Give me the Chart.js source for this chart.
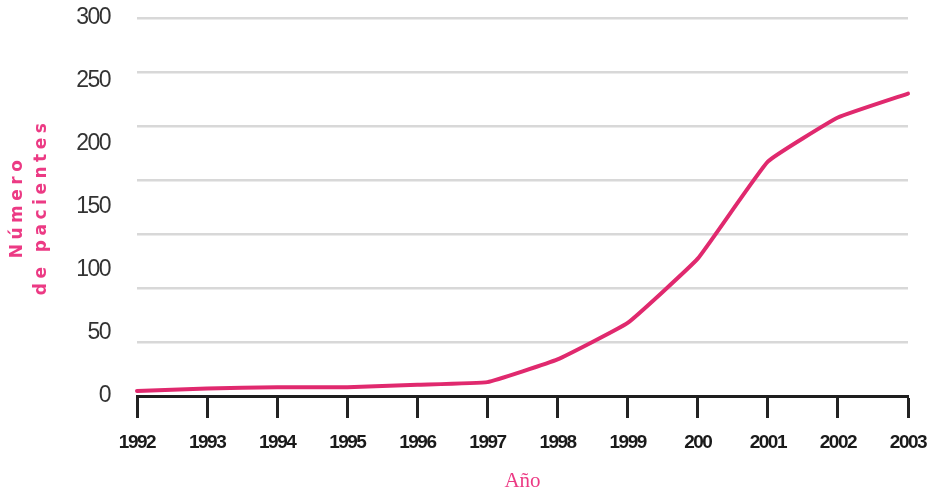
<!DOCTYPE html>
<html>
<head>
<meta charset="utf-8">
<script src="https://cdn.jsdelivr.net/npm/chart.js@4/dist/chart.umd.min.js"></script>
<style>
  html, body { margin: 0; padding: 0; background: #ffffff; }
  #wrap { width: 927px; height: 494px; }
</style>
</head>
<body>
<div id="wrap"><canvas id="c" width="927" height="494"></canvas></div>
<script>
// Pacientes por año
const years = ['1992', '1993', '1994', '1995', '1996', '1997', '1998', '1999', '2000', '2001', '2002', '2003'];
const xTickLabels = ['1992', '1993', '1994', '1995', '1996', '1997', '1998', '1999', '200', '2001', '2002', '2003'];
const pacientes = [4, 6, 7, 7, 9, 11, 29, 58, 109, 186, 221, 240];
const yTitleLines = ['Número', 'de pacientes'];
const xTitle = 'Año';

const PINK = '#e0296e';
const TITLE_PINK = '#ec3a84';

// Scale variants that draw their title and tick labels with custom letter spacing
function spacedScale(Base, id, titleSpacing, labelSpacing) {
  class Spaced extends Base {
    drawTitle() {
      const ctx = this.ctx;
      ctx.save();
      ctx.letterSpacing = titleSpacing;
      super.drawTitle();
      ctx.restore();
    }
    drawLabels(chartArea) {
      const ctx = this.ctx;
      ctx.save();
      ctx.letterSpacing = labelSpacing;
      super.drawLabels(chartArea);
      ctx.restore();
    }
  }
  Spaced.id = id;
  Spaced.defaults = Base.defaults;
  Chart.register(Spaced);
}
spacedScale(Chart.registry.getScale('linear'), 'spacedLinear', '4.5px', '-1.5px');
spacedScale(Chart.registry.getScale('category'), 'spacedCategory', '0px', '-1.5px');

new Chart(document.getElementById('c'), {
  type: 'line',
  data: {
    labels: years,
    datasets: [{
      data: pacientes,
      borderColor: PINK,
      borderWidth: 4,
      borderCapStyle: 'round',
      borderJoinStyle: 'round',
      pointRadius: 0,
      tension: 0.1,
      fill: false,
      clip: false
    }]
  },
  options: {
    responsive: false,
    animation: false,
    layout: { padding: { top: 18, right: 19, left: 0, bottom: 0 } },
    plugins: { legend: { display: false }, tooltip: { enabled: false } },
    scales: {
      x: {
        type: 'spacedCategory',
        offset: false,
        afterFit: (s) => { s.paddingRight = 0; },
        border: { display: true, color: '#1e1e1e', width: 3 },
        grid: { drawOnChartArea: false, drawTicks: true, tickLength: 22, tickColor: '#222222', tickWidth: 3 },
        ticks: {
          callback: (v, i) => xTickLabels[i],
          color: '#1a1a1a',
          padding: 13,
          maxRotation: 0,
          autoSkip: false,
          font: { family: "'Liberation Sans', sans-serif", weight: 'bold', size: 19 }
        },
        title: {
          display: true,
          text: xTitle,
          color: TITLE_PINK,
          padding: { top: 2, bottom: 0 },
          font: { family: "'Liberation Serif', serif", size: 21 }
        }
      },
      y: {
        type: 'spacedLinear',
        position: 'left',
        min: 0,
        max: 300,
        afterFit: (s) => { s.width = 137; s.paddingTop = 0; },
        border: { display: false },
        grid: { display: false },
        ticks: {
          stepSize: 50,
          color: '#333333',
          padding: 19,
          font: { family: "'Liberation Sans', sans-serif", size: 23 }
        },
        title: {
          display: true,
          text: yTitleLines,
          color: TITLE_PINK,
          padding: { top: 5, bottom: 0 },
          font: { family: "'DejaVu Sans', sans-serif", weight: 'bold', size: 17, lineHeight: 1.45 }
        }
      },
      // evenly spaced background rules
      rules: {
        type: 'linear',
        position: 'right',
        min: 0,
        max: 7,
        afterFit: (s) => { s.width = 0; s.paddingTop = 0; },
        border: { display: false },
        ticks: { display: false, stepSize: 1 },
        grid: {
          drawTicks: false,
          lineWidth: 2.5,
          color: (ctx) => (ctx.tick && ctx.tick.value === 0 ? 'rgba(0,0,0,0)' : '#d8d8d8')
        }
      }
    }
  }
});
</script>
</body>
</html>
